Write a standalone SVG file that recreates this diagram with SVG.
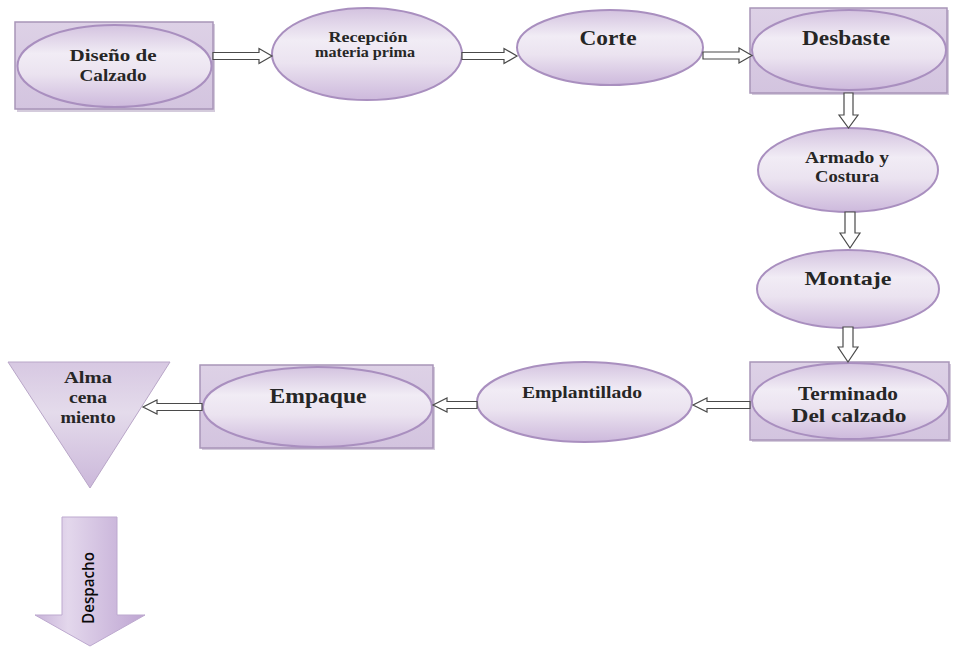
<svg xmlns="http://www.w3.org/2000/svg" width="953" height="647" viewBox="0 0 953 647">
<defs>
<linearGradient id="eg" x1="0" y1="0" x2="0" y2="1">
<stop offset="0" stop-color="#d3c2df"/>
<stop offset="0.35" stop-color="#f1ecf5"/>
<stop offset="0.6" stop-color="#ebe3f0"/>
<stop offset="1" stop-color="#cdb9dc"/>
</linearGradient>
<linearGradient id="rg" x1="0" y1="0" x2="0" y2="1">
<stop offset="0" stop-color="#ddd1e6"/>
<stop offset="1" stop-color="#d3c4df"/>
</linearGradient>
<linearGradient id="tg" x1="0" y1="0" x2="0" y2="1">
<stop offset="0" stop-color="#d7c8e2"/>
<stop offset="0.4" stop-color="#e4dbeb"/>
<stop offset="1" stop-color="#cbb7da"/>
</linearGradient>
<linearGradient id="dg" x1="0" y1="0" x2="1" y2="0">
<stop offset="0" stop-color="#c7b2d8"/>
<stop offset="0.3" stop-color="#e3d7ec"/>
<stop offset="1" stop-color="#bea5d2"/>
</linearGradient>
</defs>
<style>
.bx{fill:url(#rg);stroke:#a895b8;stroke-width:1.5}
.sh{fill:#b8a8c4;opacity:0.6}
.el{fill:url(#eg);stroke:#a98fbf;stroke-width:2}
.t{font-family:"Liberation Serif","Times New Roman",serif;font-weight:bold;fill:#262626;text-anchor:middle}
.s15{font-size:15px}
.s17{font-size:17px}
.s19{font-size:19px}
.s20{font-size:20px}
.ar{fill:#ffffff;stroke:#4a4a4a;stroke-width:1.2;stroke-linejoin:miter}
</style>
<rect width="953" height="647" fill="#ffffff"/>

<g id="disenio">
<rect class="sh" x="17" y="24" width="198" height="88"/>
<rect class="bx" x="15" y="22" width="198" height="87"/>
<ellipse class="el" cx="114.5" cy="66" rx="97" ry="41"/>
<text class="t s17" x="113" y="61" textLength="87" lengthAdjust="spacingAndGlyphs">Diseño de</text>
<text class="t s17" x="113" y="81" textLength="67" lengthAdjust="spacingAndGlyphs">Calzado</text>
</g>

<g id="recepcion">
<ellipse class="el" cx="367" cy="54" rx="95" ry="46"/>
<text class="t s15" x="368" y="42" textLength="79" lengthAdjust="spacingAndGlyphs">Recepción</text>
<text class="t s15" x="365" y="57" textLength="100" lengthAdjust="spacingAndGlyphs">materia prima</text>
</g>

<g id="corte">
<ellipse class="el" cx="610" cy="47.5" rx="93" ry="37.5"/>
<text class="t s20" x="608" y="45" textLength="57" lengthAdjust="spacingAndGlyphs">Corte</text>
</g>

<g id="desbaste">
<rect class="sh" x="752" y="10" width="197" height="85"/>
<rect class="bx" x="750" y="8" width="197" height="85"/>
<ellipse class="el" cx="849" cy="50" rx="97" ry="40"/>
<text class="t s20" x="846" y="45" textLength="88" lengthAdjust="spacingAndGlyphs">Desbaste</text>
</g>

<g id="armado">
<ellipse class="el" cx="848" cy="170" rx="90" ry="42"/>
<text class="t s17" x="847" y="163" textLength="84" lengthAdjust="spacingAndGlyphs">Armado y</text>
<text class="t s17" x="847" y="182" textLength="64" lengthAdjust="spacingAndGlyphs">Costura</text>
</g>

<g id="montaje">
<ellipse class="el" cx="848" cy="289" rx="91" ry="39"/>
<text class="t s19" x="848" y="285" textLength="87" lengthAdjust="spacingAndGlyphs">Montaje</text>
</g>

<g id="terminado">
<rect class="sh" x="752" y="364" width="199" height="78"/>
<rect class="bx" x="750" y="362" width="199" height="78"/>
<ellipse class="el" cx="850" cy="401" rx="98" ry="38"/>
<text class="t s19" x="848" y="400" textLength="100" lengthAdjust="spacingAndGlyphs">Terminado</text>
<text class="t s19" x="849" y="422" textLength="115" lengthAdjust="spacingAndGlyphs">Del calzado</text>
</g>

<g id="emplantillado">
<ellipse class="el" cx="584.5" cy="402" rx="107.5" ry="40"/>
<text class="t s17" x="582" y="398" textLength="120" lengthAdjust="spacingAndGlyphs">Emplantillado</text>
</g>

<g id="empaque">
<rect class="sh" x="202" y="367" width="233" height="83"/>
<rect class="bx" x="200" y="365" width="233" height="83"/>
<ellipse class="el" cx="317.5" cy="407" rx="114.5" ry="40"/>
<text class="t s20" x="318" y="403" textLength="97" lengthAdjust="spacingAndGlyphs">Empaque</text>
</g>

<g id="almacenamiento">
<polygon points="8,362 170,362 90,488" fill="url(#tg)" stroke="#b9a6c8" stroke-width="1"/>
<text class="t s17" x="88" y="383" textLength="48" lengthAdjust="spacingAndGlyphs">Alma</text>
<text class="t s17" x="88" y="403" textLength="38" lengthAdjust="spacingAndGlyphs">cena</text>
<text class="t s17" x="88" y="423" textLength="55" lengthAdjust="spacingAndGlyphs">miento</text>
</g>

<g id="despacho">
<polygon points="62,517 117,517 117,615 145,615 90,646 35,615 62,615" fill="url(#dg)" stroke="#bda9cf" stroke-width="1"/>
<text transform="translate(94,588) rotate(-90)" font-family="'Open Sans','Noto Sans','Liberation Sans',sans-serif" font-size="17" font-weight="600" fill="#0a0a0a" text-anchor="middle" textLength="72" lengthAdjust="spacingAndGlyphs">Despacho</text>
</g>

<g id="connectors">
<polygon class="ar" points="213,52.5 259,52.5 259,48.5 272,56 259,63.5 259,59.5 213,59.5"/>
<polygon class="ar" points="462,52.5 504,52.5 504,48.5 517,56 504,63.5 504,59.5 462,59.5"/>
<polygon class="ar" points="703,52 739,52 739,48 752,55.5 739,63 739,59 703,59"/>
<polygon class="ar" points="844,93 853,93 853,115 858,115 848.5,128 839,115 844,115"/>
<polygon class="ar" points="845,212 855,212 855,233 860,233 850,248 840,233 845,233"/>
<polygon class="ar" points="843,327 853,327 853,347 858,347 848,362 838,347 843,347"/>
<polygon class="ar" points="750,401.5 707,401.5 707,398 693,405 707,412 707,408.5 750,408.5"/>
<polygon class="ar" points="477,401.5 447,401.5 447,398 433,405 447,412 447,408.5 477,408.5"/>
<polygon class="ar" points="202,403.5 157,403.5 157,400 143,407 157,414 157,410.5 202,410.5"/>
</g>
</svg>
